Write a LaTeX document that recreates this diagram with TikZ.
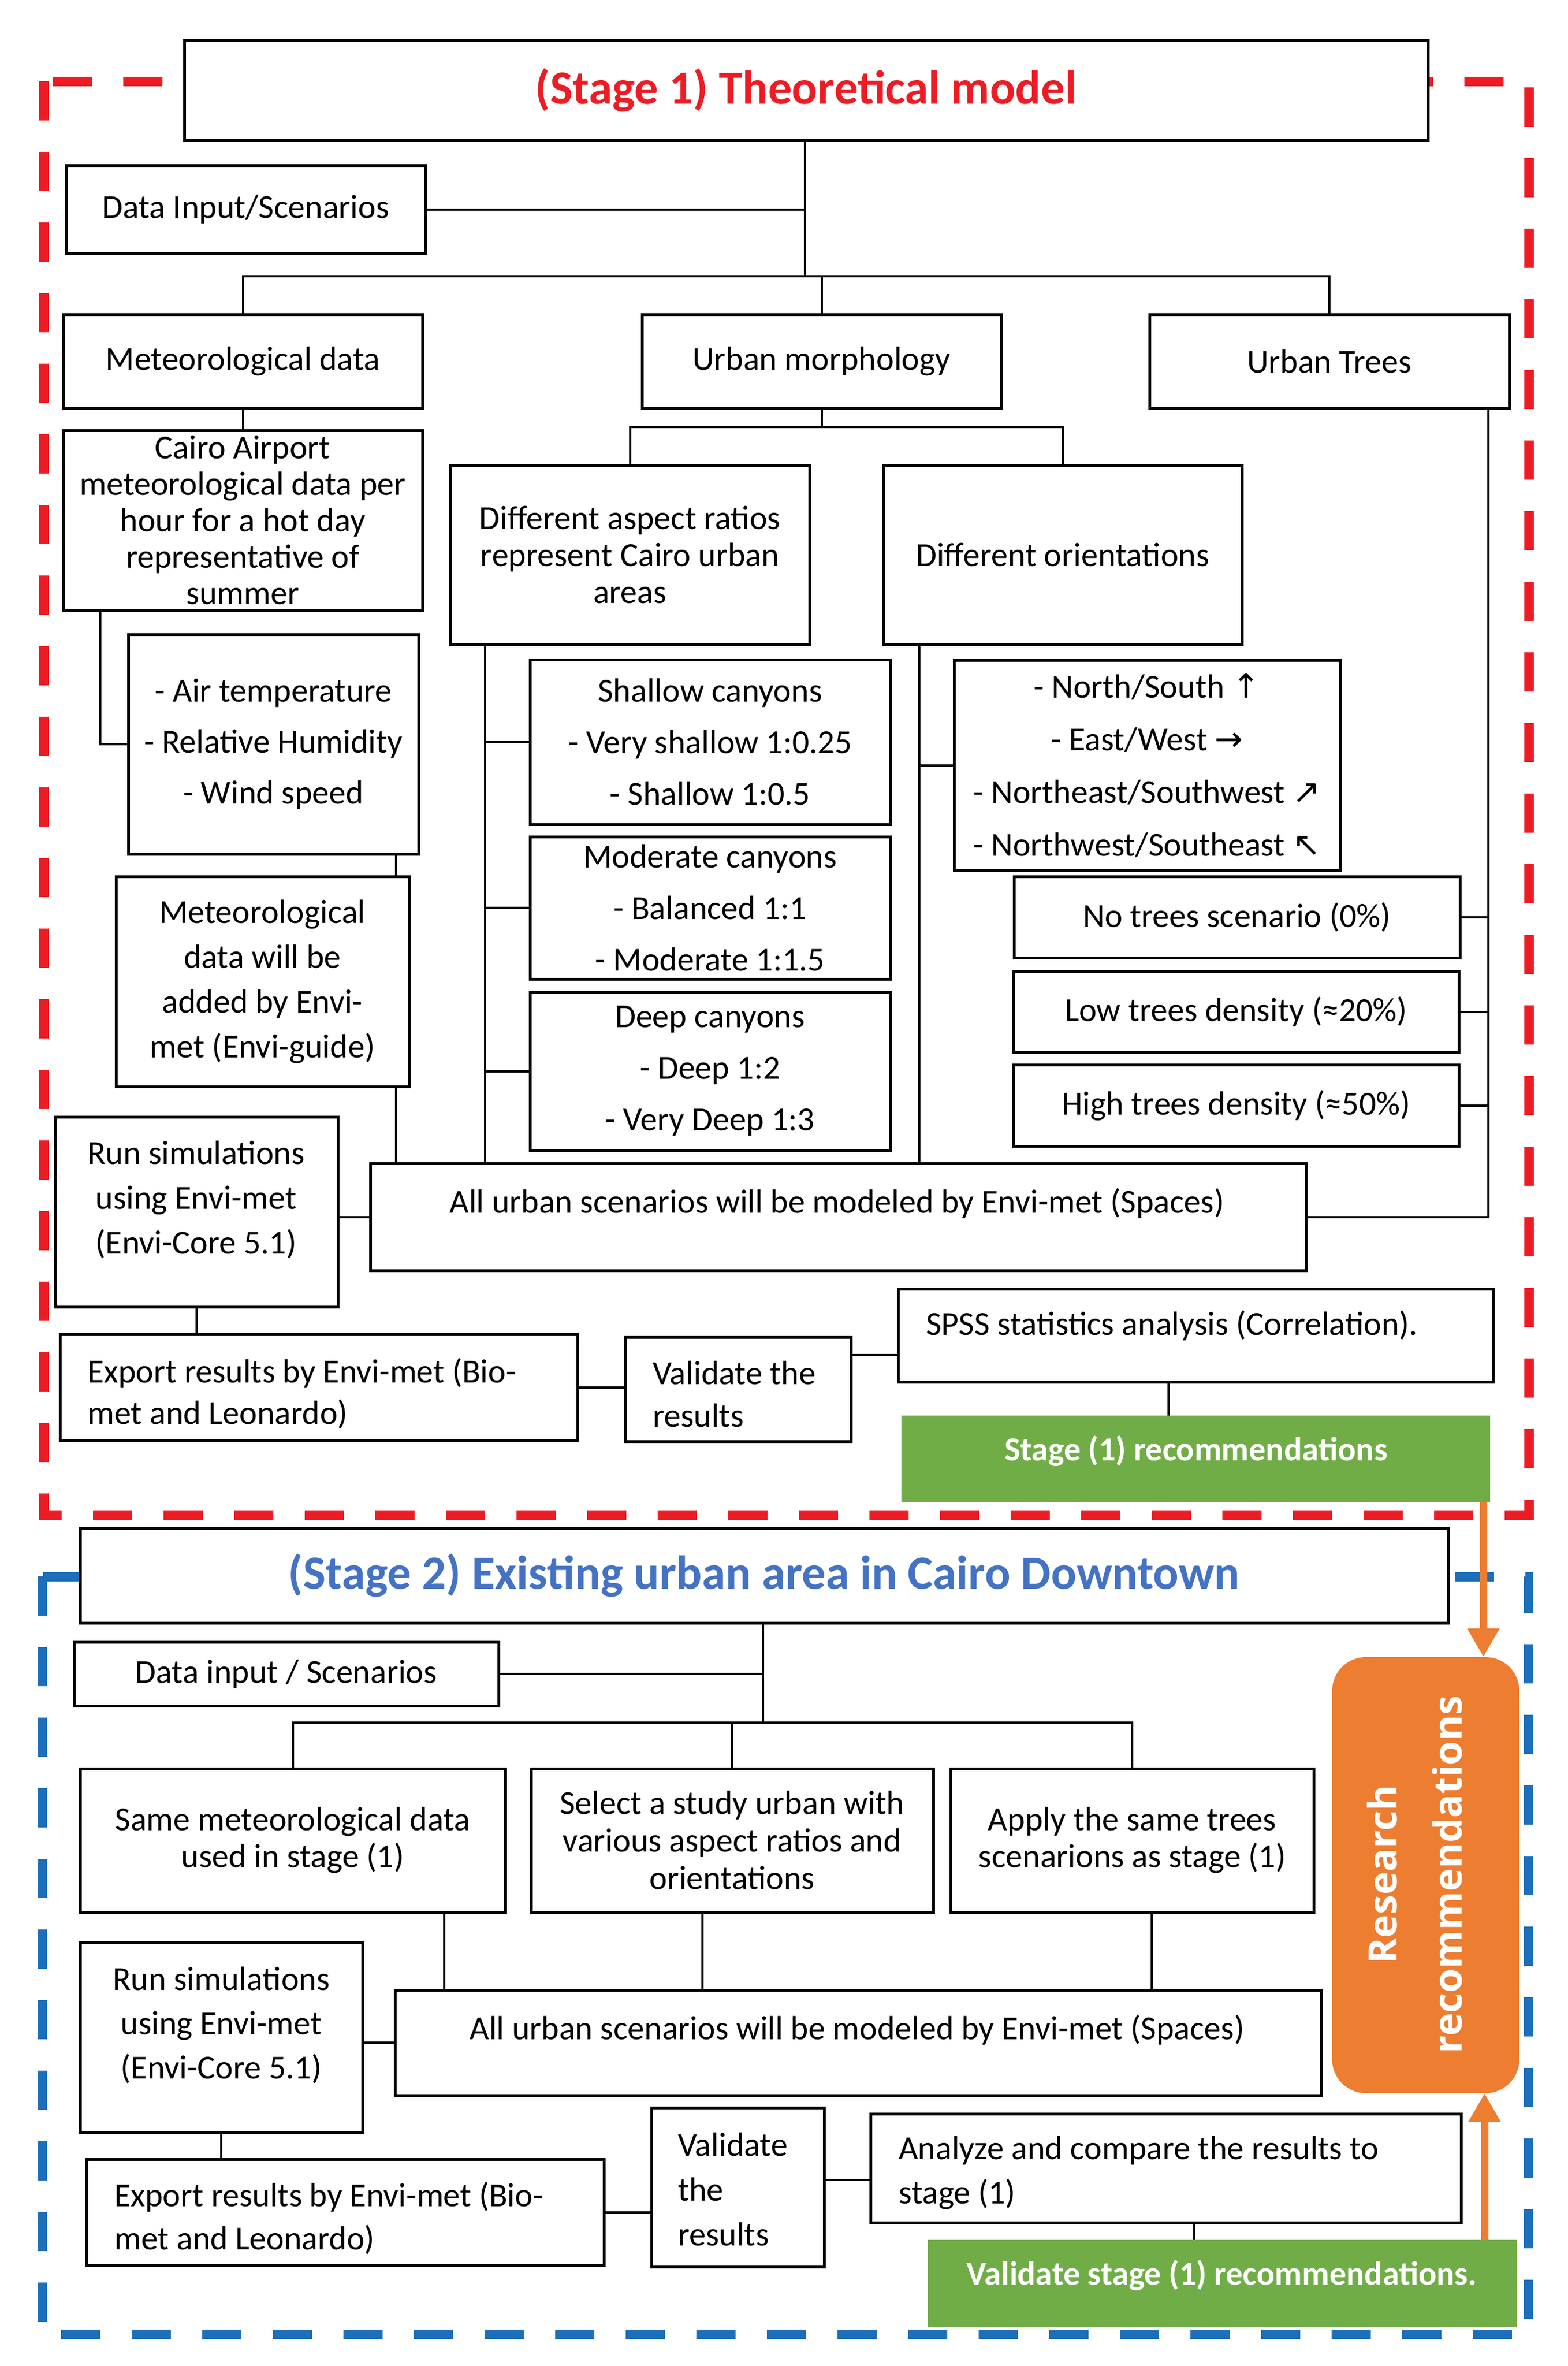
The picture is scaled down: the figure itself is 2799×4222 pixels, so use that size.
\documentclass[tikz,border=0pt]{standalone}
\usepackage{fontspec}
\setmainfont{Carlito}
\newfontfamily\arfont{DejaVu Sans}
\newfontfamily\rsfont{Open Sans}
\usetikzlibrary{arrows.meta}
\definecolor{redS}{HTML}{ED1C24}
\definecolor{blueS}{HTML}{1E6FBA}
\definecolor{blueT}{HTML}{4472C4}
\definecolor{greenS}{HTML}{70AD47}
\definecolor{orangeS}{HTML}{ED7D31}
\newcommand\ar[1]{{\arfont\fontsize{60}{60}\selectfont #1}}
\begin{document}
\begin{tikzpicture}[x=1pt,y=-1pt,
  bx/.style={draw=black, line width=5pt, fill=white, inner sep=0pt, align=center, font=\fontsize{60}{66}\selectfont},
  txt/.style={inner sep=0pt, align=left, anchor=west},
  ctxt/.style={inner sep=0pt, align=center},
  ln/.style={draw=black, line width=4pt},
  gbox/.style={fill=greenS, inner sep=0pt},
  gtxt/.style={inner sep=0pt, text=white, font=\fontsize{60}{66}\selectfont\bfseries},
  title/.style={font=\fontsize{85}{100}\selectfont\bfseries},
  reddash/.style={draw=redS, line width=17pt, dash pattern=on 70pt off 56pt},
  bluedash/.style={draw=blueS, line width=17pt, dash pattern=on 70pt off 56pt},
  oarrow/.style={draw=orangeS, line width=13pt, -{Triangle[width=54pt,length=51pt]}}
]
\fill[white] (0,0) rectangle (2799,4222);
\useasboundingbox (0,0) rectangle (2799,4222);

% dashed stage frames
\draw[reddash] (78,145) rectangle (2729,2703);
\draw[bluedash] (75,2813) rectangle (2728,4165);

% ---------------- Stage 1 ----------------
\node[bx, title, text=redS, minimum width=2220pt, minimum height=178pt] (t1) at (1439,161) {(Stage 1) Theoretical model};
\node[bx, minimum width=641pt, minimum height=157pt] (din) at (438.5,373.5) {Data Input/Scenarios};
\node[bx, minimum width=641pt, minimum height=167pt] (met) at (433.5,644.5) {Meteorological data};
\node[bx, minimum width=641pt, minimum height=167pt] (morph) at (1466.5,644.5) {Urban morphology};
\node[bx, minimum width=642pt, minimum height=167pt] (trees) at (2373,644.5) {Urban Trees};
\node[bx, minimum width=641pt, minimum height=321pt, font=\fontsize{60}{65}\selectfont] (cairo) at (433.5,928.5) {Cairo Airport\\meteorological data per\\hour for a hot day\\representative of\\summer};
\node[bx, minimum width=641pt, minimum height=320pt] (aspect) at (1124.5,990) {Different aspect ratios\\represent Cairo urban\\areas};
\node[bx, minimum width=640pt, minimum height=320pt] (orient) at (1897,990) {Different orientations};
\node[bx, minimum width=518pt, minimum height=392pt, font=\fontsize{60}{91}\selectfont] (airtemp) at (488,1328) {- Air temperature\\- Relative Humidity\\- Wind speed};
\node[bx, minimum width=523pt, minimum height=375pt, font=\fontsize{60}{80}\selectfont] (metadd) at (468.5,1751.5) {Meteorological\\data will be\\added by Envi-\\met (Envi-guide)};
\node[bx, minimum width=643pt, minimum height=294pt, font=\fontsize{60}{92}\selectfont] (shallow) at (1267.5,1324) {Shallow canyons\\- Very shallow 1:0.25\\- Shallow 1:0.5};
\node[bx, minimum width=643pt, minimum height=254pt, font=\fontsize{60}{92}\selectfont] (moderate) at (1267.5,1620) {Moderate canyons\\- Balanced 1:1\\- Moderate 1:1.5};
\node[bx, minimum width=643pt, minimum height=283pt, font=\fontsize{60}{92}\selectfont] (deep) at (1267.5,1911.5) {Deep canyons\\- Deep 1:2\\- Very Deep 1:3};
\node[bx, minimum width=689pt, minimum height=375pt, font=\fontsize{60}{94}\selectfont] (dirs) at (2047.5,1365.5) {- North/South \ar{↑}\\- East/West \ar{→}\\- Northeast/Southwest \ar{↗}\\- Northwest/Southeast \ar{↖}};
\node[bx, minimum width=796pt, minimum height=145pt] (notrees) at (2208,1636.5) {No trees scenario (0\%)};
\node[bx, minimum width=795pt, minimum height=145pt] (lowtrees) at (2206.5,1805.5) {Low trees density (≈20\%)};
\node[bx, minimum width=795pt, minimum height=145pt] (hightrees) at (2206.5,1972.5) {High trees density (≈50\%)};
\node[bx, minimum width=1670pt, minimum height=191pt] (allurb) at (1496,2171.5) {};
\node[ctxt, font=\fontsize{60}{66}\selectfont] (allurbT) at (1494,2147) {All urban scenarios will be modeled by Envi-met (Spaces)};
\node[bx, minimum width=505pt, minimum height=339pt] (runsim) at (350.5,2162.5) {};
\node[ctxt, font=\fontsize{60}{80}\selectfont] (runsimT) at (350,2141) {Run simulations\\using Envi-met\\(Envi-Core 5.1)};
\node[bx, minimum width=924pt, minimum height=189pt] (export1) at (569,2475.5) {};
\node[txt, font=\fontsize{60}{74}\selectfont] (export1T) at (156,2487) {Export results by Envi-met (Bio-\\met and Leonardo)};
\node[bx, minimum width=403pt, minimum height=186pt] (valid1) at (1317.5,2479) {};
\node[txt, font=\fontsize{60}{76}\selectfont] (valid1T) at (1165,2488) {Validate the\\results};
\node[bx, minimum width=1062pt, minimum height=166pt] (spss) at (2134,2383) {};
\node[txt, font=\fontsize{60}{66}\selectfont] (spssT) at (1653,2365) {SPSS statistics analysis (Correlation).};
\node[gbox, minimum width=1051pt, minimum height=154pt] (rec1) at (2134.5,2603) {};
\node[gtxt] (rec1T) at (2135,2589) {Stage (1) recommendations};

% connectors stage 1
\coordinate (j1) at (1437,493);
\draw[ln] (t1.south -| j1) -- (j1);
\draw[ln] (din.east) -- (din.east -| j1);
\draw[ln] (met.north) |- (trees.north |- j1) -- (trees.north);
\draw[ln] (morph.north) -- (morph.north |- j1);
\draw[ln] (met.south) -- (cairo.north);
\coordinate (j2) at (1466.5,762);
\draw[ln] (morph.south) -- (j2);
\draw[ln] (aspect.north) |- (j2) -| (orient.north);
\coordinate (cx) at (179,0);
\draw[ln] (cairo.south -| cx) |- (airtemp.west);
\coordinate (mx) at (707,0);
\draw[ln] (airtemp.south -| mx) -- (metadd.north -| mx);
\draw[ln] (metadd.south -| mx) -- (allurb.north -| mx);
\coordinate (ax) at (866,0);
\draw[ln] (aspect.south -| ax) -- (allurb.north -| ax);
\foreach \n in {shallow,moderate,deep} \draw[ln] (\n.west) -- (\n.west -| ax);
\coordinate (ox) at (1641,0);
\draw[ln] (orient.south -| ox) -- (allurb.north -| ox);
\draw[ln] (dirs.west) -- (dirs.west -| ox);
\coordinate (tx) at (2657,0);
\draw[ln] (trees.south -| tx) |- (allurb.east);
\foreach \n in {notrees,lowtrees,hightrees} \draw[ln] (\n.east) -- (\n.east -| tx);
\draw[ln] (allurb.west) -- (allurb.west -| runsim.east);
\draw[ln] (runsim.south) -- (runsim.south |- export1.north);
\draw[ln] (export1.east) -- (export1.east -| valid1.west);
\coordinate (vy) at (0,2418);
\draw[ln] (valid1.east |- vy) -- (spss.west |- vy);
\coordinate (sx) at (2086,0);
\draw[ln] (spss.south -| sx) -- (rec1.north -| sx);

% ---------------- Stage 2 ----------------
\node[bx, title, text=blueT, minimum width=2442pt, minimum height=169pt] (t2) at (1364,2811.5) {(Stage 2) Existing urban area in Cairo Downtown};
\node[bx, minimum width=758pt, minimum height=114pt] (din2) at (511,2987) {Data input / Scenarios};
\node[bx, minimum width=759pt, minimum height=256pt] (same) at (522.5,3284) {Same meteorological data\\used in stage (1)};
\node[bx, minimum width=718pt, minimum height=256pt, font=\fontsize{60}{67}\selectfont] (select) at (1307,3284) {Select a study urban with\\various aspect ratios and\\orientations};
\node[bx, minimum width=648pt, minimum height=256pt] (apply) at (2021,3284) {Apply the same trees\\scenarions as stage (1)};
\node[bx, minimum width=504pt, minimum height=339pt] (runsim2) at (395,3635.5) {};
\node[ctxt, font=\fontsize{60}{79}\selectfont] (runsim2T) at (395,3614) {Run simulations\\using Envi-met\\(Envi-Core 5.1)};
\node[bx, minimum width=1653pt, minimum height=188pt] (allurb2) at (1531.5,3645) {};
\node[ctxt, font=\fontsize{60}{66}\selectfont] (allurb2T) at (1530,3622) {All urban scenarios will be modeled by Envi-met (Spaces)};
\node[bx, minimum width=924pt, minimum height=189pt] (export2) at (616,3947.5) {};
\node[txt, font=\fontsize{60}{77}\selectfont] (export2T) at (204,3958) {Export results by Envi-met (Bio-\\met and Leonardo)};
\node[bx, minimum width=308pt, minimum height=284pt] (valid2) at (1317,3903) {};
\node[txt, font=\fontsize{60}{80}\selectfont] (valid2T) at (1210,3907) {Validate\\the\\results};
\node[bx, minimum width=1054pt, minimum height=194pt] (analyze) at (2081,3869) {};
\node[txt, font=\fontsize{60}{79}\selectfont] (analyzeT) at (1604,3877) {Analyze and compare the results to\\stage (1)};
\node[gbox, minimum width=1052pt, minimum height=156pt] (rec2) at (2182,4075) {};
\node[gtxt] (rec2T) at (2181,4060) {Validate stage (1) recommendations.};
\node[fill=orangeS, rounded corners=60pt, inner sep=0pt, minimum width=334pt, minimum height=778pt] (research) at (2545,3346) {};
\node[rotate=90, inner sep=0pt, align=center, text=white, font=\rsfont\bfseries\fontsize{70}{116}\selectfont] (researchT) at (2525,3345) {Research\\recommendations};

% connectors stage 2
\coordinate (s1) at (1362,3074);
\draw[ln] (t2.south -| s1) -- (s1);
\draw[ln] (din2.east) -- (din2.east -| s1);
\draw[ln] (same.north) |- (apply.north |- s1) -- (apply.north);
\draw[ln] (select.north) -- (select.north |- s1);
\coordinate (u1) at (793,0);
\coordinate (u2) at (1254,0);
\coordinate (u3) at (2056,0);
\draw[ln] (same.south -| u1) -- (allurb2.north -| u1);
\draw[ln] (select.south -| u2) -- (allurb2.north -| u2);
\draw[ln] (apply.south -| u3) -- (allurb2.north -| u3);
\draw[ln] (allurb2.west) -- (allurb2.west -| runsim2.east);
\draw[ln] (runsim2.south) -- (runsim2.south |- export2.north);
\draw[ln] (export2.east) -- (export2.east -| valid2.west);
\coordinate (vy2) at (0,3890);
\draw[ln] (valid2.east |- vy2) -- (analyze.west |- vy2);
\coordinate (ax2) at (2132,0);
\draw[ln] (analyze.south -| ax2) -- (rec2.north -| ax2);

% orange arrows
\coordinate (o1) at (2648,0);
\draw[oarrow] (rec1.south -| o1) -- (research.north -| o1);
\coordinate (o2) at (2650,0);
\draw[oarrow] (rec2.north -| o2) -- (research.south -| o2);
\end{tikzpicture}
\end{document}
